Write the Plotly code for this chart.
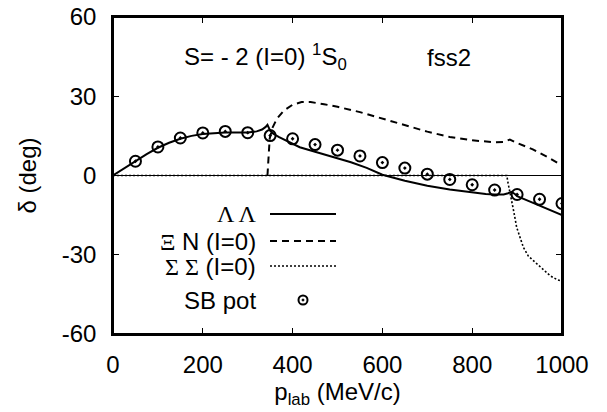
import plotly.graph_objects as go

# ---- data ----
ll_x = [0, 25, 50, 75, 100, 125, 150, 175, 200, 225, 250, 275, 300, 320, 332, 340, 344, 350, 357, 370, 387, 400, 416, 450, 491, 530, 565, 600, 650, 700, 750, 800, 830, 850, 870, 880, 887, 895, 900, 925, 950, 975, 1000]
ll_y = [0, 2.8, 5.4, 8.1, 10.5, 12.4, 13.9, 15.0, 15.7, 16.1, 16.3, 16.3, 16.3, 16.7, 17.4, 18.4, 19.2, 17.0, 15.8, 14.5, 13.2, 12.1, 10.7, 9.0, 7.0, 5.0, 2.9, 0.3, -2.0, -3.9, -5.3, -6.4, -7.0, -7.2, -7.2, -6.7, -6.2, -7.0, -7.8, -9.6, -11.5, -13.3, -15.0]

xn_x = [344, 346, 349, 355, 365, 380, 400, 420, 440, 470, 500, 550, 600, 650, 700, 750, 800, 850, 870, 884, 900, 935, 970, 1000]
xn_y = [0, 8, 14, 18, 21.5, 24.5, 26.8, 27.8, 27.8, 27.0, 26.0, 24.0, 21.5, 19.0, 16.6, 14.6, 13.3, 12.6, 12.7, 13.6, 12.3, 9.9, 6.8, 3.8]

ss_x = [0, 877, 880, 884, 888, 893, 899, 906, 914, 925, 944, 960, 974, 990, 1000]
ss_y = [0, 0, -3, -6, -9.5, -14, -19.6, -23.5, -27.2, -30.5, -33.5, -36, -38, -39.5, -40]

sb_x = [50, 100, 150, 200, 250, 300, 350, 400, 450, 500, 550, 600, 650, 700, 750, 800, 850, 900, 950, 1000]
sb_y = [5.4, 10.8, 14.2, 16.1, 16.7, 16.2, 15.1, 13.9, 11.7, 9.6, 7.4, 4.9, 2.8, 0.5, -1.5, -3.5, -5.5, -7.2, -9.0, -10.6]

x_ticks = [0, 200, 400, 600, 800, 1000]
y_ticks = [-60, -30, 0, 30, 60]

legend_labels = [
    '<span style="font-family:Liberation Serif">Λ Λ</span>',
    '<span style="font-family:Liberation Serif">Ξ</span> N (I=0)',
    '<span style="font-family:Liberation Serif">Σ Σ</span> (I=0)',
    'SB pot',
]

FONT = "Liberation Sans, Arial, sans-serif"
FS = 24

fig = go.Figure()
fig.add_trace(go.Scatter(x=ss_x, y=ss_y, mode="lines",
                         line=dict(color="black", width=1.6, dash="2px,2px"), showlegend=False))
fig.add_trace(go.Scatter(x=xn_x, y=xn_y, mode="lines",
                         line=dict(color="black", width=2, dash="7px,5px"), showlegend=False))
fig.add_trace(go.Scatter(x=ll_x, y=ll_y, mode="lines",
                         line=dict(color="black", width=2), showlegend=False))
fig.add_trace(go.Scatter(x=sb_x, y=sb_y, mode="markers",
                         marker=dict(symbol="circle-open-dot", size=11, color="black",
                                     line=dict(width=2, color="black")),
                         showlegend=False))

# zero axis line
fig.add_shape(type="line", xref="paper", yref="y", x0=0, x1=1, y0=0, y1=0,
              line=dict(color="black", width=1.2), layer="below")
# plot frame
fig.add_shape(type="rect", xref="paper", yref="paper", x0=0, x1=1, y0=0, y1=1,
              line=dict(color="black", width=2), fillcolor="rgba(0,0,0,0)", layer="above")

L, W, T, H = 113, 449, 17, 317   # plot area in page pixels
def px(v):
    return (v - L) / W
def py(v):
    return (T + H - v) / H

rows = [214, 241, 266, 300]
text_right = 258
s0, s1 = 270, 336
for lab, r in zip(legend_labels, rows):
    fig.add_annotation(x=px(text_right), y=py(r), xref="paper", yref="paper",
                       text=lab, showarrow=False, xanchor="right", yanchor="middle",
                       font=dict(family=FONT, size=FS, color="black"))
fig.add_shape(type="line", xref="paper", yref="paper", x0=px(s0), x1=px(s1),
              y0=py(rows[0]), y1=py(rows[0]), line=dict(color="black", width=2))
fig.add_shape(type="line", xref="paper", yref="paper", x0=px(s0), x1=px(s1),
              y0=py(rows[1]), y1=py(rows[1]), line=dict(color="black", width=2, dash="7px,5px"))
fig.add_shape(type="line", xref="paper", yref="paper", x0=px(s0), x1=px(s1),
              y0=py(rows[2]), y1=py(rows[2]), line=dict(color="black", width=1.6, dash="2px,2px"))
cx = (s0 + s1) / 2
fig.add_shape(type="circle", xref="paper", yref="paper", xsizemode="pixel", ysizemode="pixel",
              xanchor=px(cx), yanchor=py(rows[3]), x0=-4.5, x1=4.5, y0=-4.5, y1=4.5,
              line=dict(color="black", width=2))
fig.add_shape(type="circle", xref="paper", yref="paper", xsizemode="pixel", ysizemode="pixel",
              xanchor=px(cx), yanchor=py(rows[3]), x0=-1, x1=1, y0=-1, y1=1,
              line=dict(color="black", width=1), fillcolor="black")

# ---- texts ----
fig.add_annotation(x=px(182), y=py(57), xref="paper", yref="paper", xanchor="left", yanchor="middle",
                   text="S= - 2 (I=0) <sup>1</sup>S<sub>0</sub>", showarrow=False,
                   font=dict(family=FONT, size=FS, color="black"))
fig.add_annotation(x=px(425), y=py(57), xref="paper", yref="paper", xanchor="left", yanchor="middle",
                   text="fss2", showarrow=False, font=dict(family=FONT, size=FS, color="black"))

axis_common = dict(showline=True, linecolor="black", linewidth=1.5, mirror="ticks",
                   ticks="inside", ticklen=6, tickwidth=1.2, tickcolor="black",
                   showgrid=False, zeroline=False, automargin=False,
                   tickfont=dict(family=FONT, size=FS, color="black"))

FW, FH = 607, 412
fig.update_layout(
    width=FW, height=FH,
    margin=dict(l=L, r=FW - L - W, t=T, b=FH - T - H),
    paper_bgcolor="white", plot_bgcolor="white",
    xaxis=dict(range=[0, 1000], tickvals=x_ticks, ticktext=[str(v) for v in x_ticks],
               ticklabelstandoff=8,
               title=dict(text="p<sub>lab</sub> (MeV/c)", font=dict(family=FONT, size=FS, color="black"),
                          standoff=6),
               **axis_common),
    yaxis=dict(range=[-60, 60], tickvals=y_ticks, ticktext=[str(v) for v in y_ticks],
               ticklabelstandoff=10,
               title=dict(text="δ (deg)", font=dict(family=FONT, size=FS, color="black"), standoff=18),
               **axis_common),
    showlegend=False,
)

fig.write_html("out.html", config={"displayModeBar": False},
               post_script="document.body.style.margin='0';document.body.style.overflow='hidden';")
